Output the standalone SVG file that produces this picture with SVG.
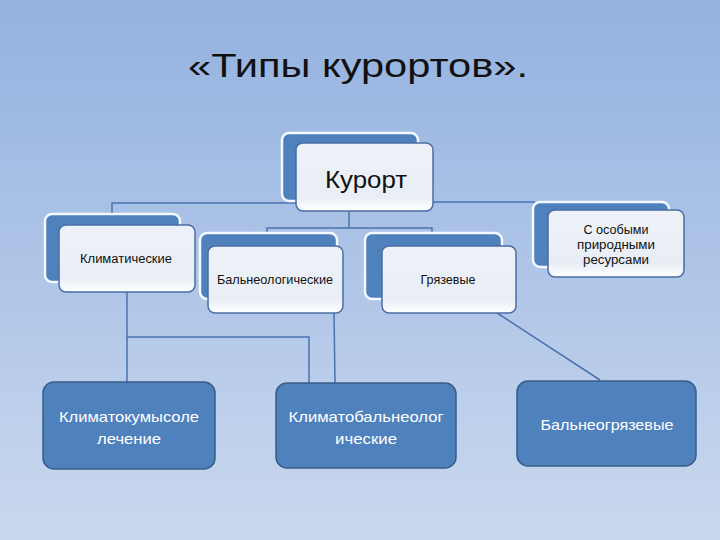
<svg xmlns="http://www.w3.org/2000/svg" width="720" height="540" viewBox="0 0 720 540">
<defs>
<linearGradient id="bg" x1="0" y1="0" x2="0" y2="1">
<stop offset="0" stop-color="#93b2e0"/>
<stop offset="1" stop-color="#cad8ee"/>
</linearGradient>
<linearGradient id="front" x1="0" y1="0" x2="0" y2="1">
<stop offset="0" stop-color="#eef2f8"/>
<stop offset="0.8" stop-color="#e9eef6"/>
<stop offset="1" stop-color="#ffffff"/>
</linearGradient>
<style>
.back{fill:#4f81bd;stroke:#f4f8ff;stroke-width:2.5}
.front{fill:url(#front);stroke:#4a6ea3;stroke-width:1.5}
.leaf{fill:#4f81bd;stroke:#385d8a;stroke-width:1.5}
.conn{fill:none;stroke:#4a72b0;stroke-width:1.5}
.t{font-family:"Liberation Sans",Arial,sans-serif;text-anchor:middle;fill:#111}
.w{font-family:"Liberation Sans",Arial,sans-serif;text-anchor:middle;fill:#fff}
</style>
</defs>
<rect width="720" height="540" fill="url(#bg)"/>
<text x="358" y="77" class="t" font-size="34" textLength="340" lengthAdjust="spacingAndGlyphs">«Типы курортов».</text>
<g id="connectors">
<polyline class="conn" points="112,214 112,203 300,203"/>
<polyline class="conn" points="433,202 535,202"/>
<polyline class="conn" points="349,211 349,228"/>
<polyline class="conn" points="267,236 267,228 432,228 432,236"/>
<polyline class="conn" points="127,292 127,382"/>
<polyline class="conn" points="127,337 309,337 309,383"/>
<polyline class="conn" points="334,313 335,383"/>
<polyline class="conn" points="497,313 600,380"/>
</g>
<g id="kurort">
<rect class="back" x="282" y="133" width="136" height="68" rx="7"/>
<rect class="front" x="296" y="143" width="137" height="68" rx="7"/>
<text x="366" y="188" class="t" font-size="23" textLength="82" lengthAdjust="spacingAndGlyphs">Курорт</text>
</g>
<g id="klimaticheskie">
<rect class="back" x="45" y="214" width="135" height="68" rx="7"/>
<rect class="front" x="59" y="225" width="136" height="67" rx="7"/>
<text x="126" y="263" class="t" font-size="12" textLength="92" lengthAdjust="spacingAndGlyphs">Климатические</text>
</g>
<g id="balneologicheskie">
<rect class="back" x="200" y="233" width="137" height="66" rx="7"/>
<rect class="front" x="208" y="246" width="135" height="67" rx="7"/>
<text x="275" y="284" class="t" font-size="12" textLength="116" lengthAdjust="spacingAndGlyphs">Бальнеологические</text>
</g>
<g id="gryazevye">
<rect class="back" x="365" y="233" width="137" height="66" rx="7"/>
<rect class="front" x="382" y="246" width="134" height="67" rx="7"/>
<text x="448" y="284" class="t" font-size="12" textLength="55" lengthAdjust="spacingAndGlyphs">Грязевые</text>
</g>
<g id="osobye">
<rect class="back" x="533" y="202" width="136" height="65" rx="7"/>
<rect class="front" x="548" y="210" width="136" height="67" rx="7"/>
<text x="616" y="234" class="t" font-size="12" textLength="65" lengthAdjust="spacingAndGlyphs">С особыми</text>
<text x="616" y="249" class="t" font-size="12" textLength="78" lengthAdjust="spacingAndGlyphs">природными</text>
<text x="616" y="264" class="t" font-size="12" textLength="66" lengthAdjust="spacingAndGlyphs">ресурсами</text>
</g>
<g id="klimatokumys">
<rect class="leaf" x="43" y="382" width="172" height="87" rx="11"/>
<text x="129" y="422" class="w" font-size="15" textLength="140" lengthAdjust="spacingAndGlyphs">Климатокумысоле</text>
<text x="129" y="444" class="w" font-size="15" textLength="64" lengthAdjust="spacingAndGlyphs">лечение</text>
</g>
<g id="klimatobalneo">
<rect class="leaf" x="276" y="383" width="180" height="85" rx="11"/>
<text x="366" y="422" class="w" font-size="15" textLength="155" lengthAdjust="spacingAndGlyphs">Климатобальнеолог</text>
<text x="366" y="444" class="w" font-size="15" textLength="62" lengthAdjust="spacingAndGlyphs">ические</text>
</g>
<g id="balneogryaz">
<rect class="leaf" x="517" y="381" width="179" height="85" rx="11"/>
<text x="607" y="430" class="w" font-size="15" textLength="133" lengthAdjust="spacingAndGlyphs">Бальнеогрязевые</text>
</g>
</svg>
